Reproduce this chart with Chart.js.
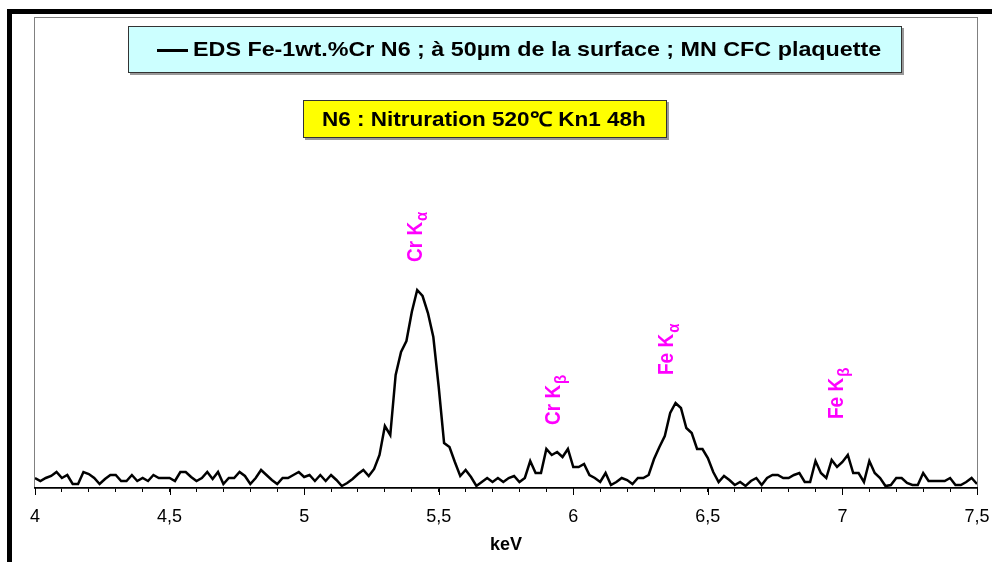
<!DOCTYPE html>
<html>
<head>
<meta charset="utf-8">
<script src="https://cdn.jsdelivr.net/npm/chart.js@4.4.0/dist/chart.umd.min.js"></script>
<style>
  html, body { margin: 0; padding: 0; background: #fff; }
  #wrap { position: relative; width: 992px; height: 562px; overflow: hidden; font-family: "Liberation Sans", Arial, sans-serif; }
  #chart { position: absolute; left: 0; top: 0; }
  .frame-top { position: absolute; left: 7px; top: 9px; width: 985px; height: 5px; background: #000; }
  .frame-left { position: absolute; left: 7px; top: 9px; width: 5px; height: 553px; background: #000; }
  #legend { position: absolute; left: 128px; top: 26px; width: 772px; height: 45px; background: #ccffff; border: 1px solid #333; box-shadow: 2px 2px 0 #999; }
  #legend .sw { position: absolute; left: 28px; top: 22px; width: 31px; height: 3px; background: #000; }
  #legend-text { position: absolute; left: 64px; top: 10px; font-weight: bold; font-size: 21px; line-height: 24px; color: #000; white-space: nowrap; transform: scaleX(1.11); transform-origin: 0 50%; }
  #note { position: absolute; left: 303px; top: 100px; width: 362px; height: 36px; background: #ffff00; border: 1px solid #333; box-shadow: 2px 2px 0 #999; }
  #note span { position: absolute; left: 18px; top: 6px; font-weight: bold; font-size: 20px; line-height: 24px; color: #000; white-space: nowrap; transform: scaleX(1.125); transform-origin: 0 50%; }
</style>
</head>
<body>
<div id="wrap">
  <canvas id="chart" width="992" height="562"></canvas>
  <div class="frame-top"></div>
  <div class="frame-left"></div>
  <div id="legend"><span class="sw"></span><span id="legend-text"></span></div>
  <div id="note"><span>N6 : Nitruration 520℃ Kn1 48h</span></div>
</div>
<script>
// spectrum, one value every 20 eV from 4.00 keV
const seriesLabel = 'EDS Fe-1wt.%Cr N6 ; à 50µm de la surface ; MN CFC plaquette';
const keVStart = 4.0;
const keVStep = 0.02;
const counts = [
  10, 7, 10, 12, 16, 10, 13, 4, 4, 16,
  14, 10, 4, 9, 13, 13, 7, 7, 13, 7,
  10, 7, 13, 10, 10, 10, 7, 16, 16, 11,
  7, 10, 16, 9, 16, 4, 10, 10, 16, 12,
  4, 10, 18, 13, 8, 4, 10, 10, 13, 16,
  11, 13, 7, 13, 7, 13, 8, 2, 5, 9,
  14, 18, 12, 19, 33, 62, 53, 113, 136, 147,
  176, 198, 192, 175, 151, 101, 45, 41, 26, 12,
  18, 11, 2, 6, 10, 6, 10, 6, 10, 12,
  6, 10, 27, 15, 15, 39, 33, 36, 31, 39,
  21, 21, 24, 13, 10, 6, 15, 3, 6, 10,
  8, 4, 10, 10, 13, 29, 41, 52, 75, 85,
  80, 60, 55, 39, 39, 30, 16, 6, 12, 8,
  3, 6, 2, 7, 10, 3, 10, 13, 13, 10,
  10, 13, 15, 6, 6, 27, 15, 10, 28, 21,
  26, 33, 15, 15, 6, 27, 15, 10, 2, 3,
  10, 10, 5, 3, 3, 15, 7, 7, 7, 7,
  10, 3, 3, 6, 10, 4
];

// peak annotations: name, subscript, keV position, count level where text starts
const peakNames = ['Cr K', 'Cr K', 'Fe K', 'Fe K'];
const peakSubs = ['α', 'β', 'α', 'β'];
const peakKeV = [5.41, 5.925, 6.345, 6.975];
const peakBase = [226, 63, 113, 69];

const fontFamily = '"Liberation Sans", Arial, sans-serif';

document.getElementById('legend-text').textContent = seriesLabel;

const isMajor = (v) => Math.abs(v * 2 - Math.round(v * 2)) < 1e-6;

const plotFrame = {
  id: 'plotFrame',
  beforeDraw(chart) {
    const { ctx, chartArea: a } = chart;
    ctx.save();
    ctx.strokeStyle = '#808080';
    ctx.lineWidth = 1;
    ctx.strokeRect(a.left - 0.5, a.top + 0.5, a.right - a.left + 1, a.bottom - a.top);
    ctx.restore();
  },
  afterDraw(chart) {
    // longer marks on the labelled ticks
    const { ctx, chartArea: a, scales: { x } } = chart;
    ctx.save();
    ctx.strokeStyle = '#000';
    ctx.lineWidth = 1;
    x.ticks.forEach(t => {
      if (!isMajor(t.value)) return;
      const px = Math.round(x.getPixelForValue(t.value)) + 0.5;
      ctx.beginPath();
      ctx.moveTo(px, a.bottom);
      ctx.lineTo(px, a.bottom + 7);
      ctx.stroke();
    });
    ctx.restore();
  }
};

const peakLabels = {
  id: 'peakLabels',
  afterDatasetsDraw(chart) {
    const { ctx, scales: { x, y } } = chart;
    ctx.save();
    ctx.fillStyle = '#ff00ff';
    ctx.textBaseline = 'alphabetic';
    peakNames.forEach((name, k) => {
      const px = x.getPixelForValue(peakKeV[k]);
      const py = y.getPixelForValue(peakBase[k]);
      ctx.save();
      ctx.translate(px, py);
      ctx.rotate(-Math.PI / 2);
      ctx.scale(1, 1.12);
      ctx.font = 'bold 19px ' + fontFamily;
      ctx.fillText(name, 0, 6.5);
      const w = ctx.measureText(name).width;
      ctx.font = 'bold 15px ' + fontFamily;
      ctx.fillText(peakSubs[k], w + 1, 11.5);
      ctx.restore();
    });
    ctx.restore();
  }
};

const points = counts.map((v, i) => ({ x: +(keVStart + i * keVStep).toFixed(2), y: v }));

new Chart(document.getElementById('chart'), {
  type: 'line',
  data: { datasets: [
    { label: seriesLabel, data: points, borderColor: '#000', borderWidth: 2.5, pointRadius: 0, tension: 0, fill: false }
  ]},
  options: {
    responsive: false, animation: false, events: [],
    layout: { padding: { left: 35, right: 15, top: 17, bottom: 0 } },
    plugins: { legend: { display: false }, tooltip: { enabled: false } },
    scales: {
      x: {
        type: 'linear', min: 4, max: 7.5,
        afterFit: (s) => { s.height = 74; s.paddingLeft = 0; s.paddingRight = 0; },
        grid: { drawOnChartArea: false, drawTicks: true, tickLength: 4, color: '#000' },
        border: { display: true, color: '#000', width: 1.5 },
        ticks: {
          stepSize: 0.1, autoSkip: false, maxRotation: 0, padding: 14, color: '#000',
          font: { family: fontFamily, size: 18 },
          callback: (v) => isMajor(v) ? String(Math.round(v * 10) / 10).replace('.', ',') : ''
        },
        title: { display: true, text: 'keV', color: '#000', font: { family: fontFamily, size: 18, weight: 'bold' }, padding: { top: 0, bottom: 6 } }
      },
      y: { display: false, min: 0, max: 471 }
    }
  },
  plugins: [plotFrame, peakLabels]
});
</script>
</body>
</html>
